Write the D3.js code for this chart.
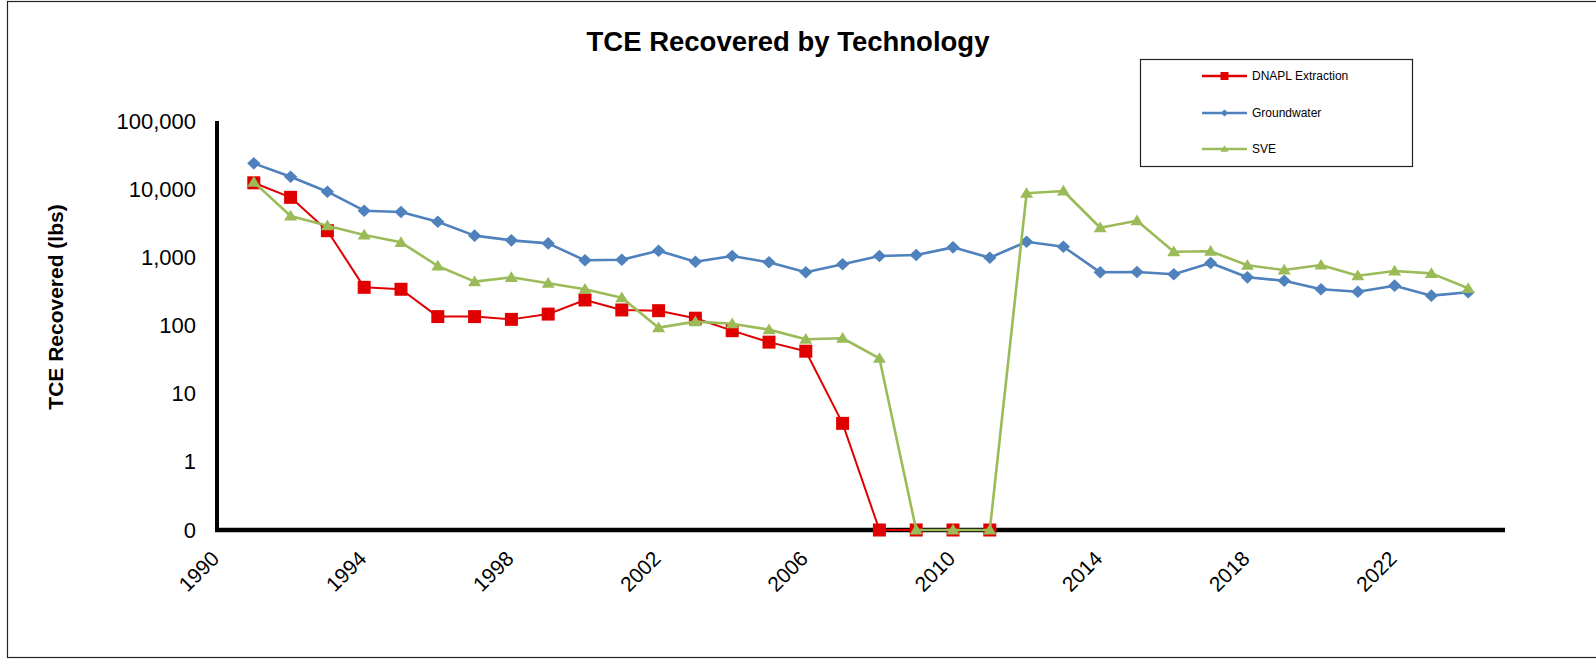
<!DOCTYPE html>
<html>
<head>
<meta charset="utf-8">
<script src="https://cdn.jsdelivr.net/npm/d3@7"></script>
<style>
  html, body { margin: 0; padding: 0; background: #fff; }
  svg { display: block; font-family: "Liberation Sans", Arial, sans-serif; }
</style>
</head>
<body>
<svg id="chart" width="1596" height="660"></svg>
<script>
// ---- data ----
const years = d3.range(1991, 2025);
const dnapl = [12400, 7590, 2460, 363, 340, 135, 135, 123, 147, 237, 169, 165, 128, 84, 57, 42, 3.67, 0, 0, 0, 0,
  null, null, null, null, null, null, null, null, null, null, null, null, null];
const groundwater = [23900, 15200, 9180, 4830, 4620, 3330, 2080, 1775, 1600, 904, 923, 1250, 863, 1045, 845, 603, 790,
  1045, 1080, 1400, 988, 1694, 1432, 603, 610, 564, 826, 509, 454, 340, 313, 384, 274, 307];
const sve = [12700, 4040, 2910, 2125, 1660, 746, 440, 509, 416, 340, 256, 93, 114, 106, 87, 63, 65, 33, 0, 0, 0,
  8690, 9400, 2720, 3440, 1210, 1230, 764, 651, 770, 538, 630, 582, 351];
const yTickValues = [0.1, 1, 10, 100, 1000, 10000, 100000];
const yTickLabels = ["0", "1", "10", "100", "1,000", "10,000", "100,000"];
const xTickValues = [1990, 1994, 1998, 2002, 2006, 2010, 2014, 2018, 2022];
const seriesNames = ["DNAPL Extraction", "Groundwater", "SVE"];

const series = [
  { name: seriesNames[0], values: dnapl, color: "#E00000", width: 2, marker: "square", size: 13 },
  { name: seriesNames[1], values: groundwater, color: "#4F81BD", width: 2.6, marker: "diamond", size: 14 },
  { name: seriesNames[2], values: sve, color: "#9BBB59", width: 2.6, marker: "triangle", size: 13 }
];

const svg = d3.select("#chart");

// outer border (right edge falls outside the picture)
svg.append("rect").attr("x", 7.5).attr("y", 1.5).attr("width", 1620).attr("height", 656)
  .attr("fill", "none").attr("stroke", "#222").attr("stroke-width", 1.2);

const x = d3.scaleLinear().domain([1990, 2025]).range([217, 1505]);
const y = d3.scaleLog().domain([0.1, 100000]).range([530, 121]);
const yv = v => y(Math.max(v, 0.1));

// title
svg.append("text").attr("x", 788).attr("y", 51).attr("text-anchor", "middle")
  .attr("font-size", 27.5).attr("font-weight", "bold").text("TCE Recovered by Technology");

// y axis title
svg.append("text").attr("transform", "translate(63,307) rotate(-90)").attr("text-anchor", "middle")
  .attr("font-size", 21).attr("font-weight", "bold").text("TCE Recovered (lbs)");

// axes
const yAxis = d3.axisLeft(y).tickValues(yTickValues).tickSize(0).tickPadding(0)
  .tickFormat((d, i) => yTickLabels[i]);
const gy = svg.append("g").attr("transform", "translate(196,0)").call(yAxis);
gy.select(".domain").remove();
gy.selectAll("text").attr("font-size", 22).attr("font-family", "Liberation Sans, Arial, sans-serif").attr("fill", "#000");

const xAxis = d3.axisBottom(x).tickValues(xTickValues).tickSize(0).tickFormat(d3.format("d"));
const gx = svg.append("g").attr("transform", "translate(0,530)").call(xAxis);
gx.select(".domain").remove();
gx.selectAll("text").attr("font-size", 21).attr("font-family", "Liberation Sans, Arial, sans-serif").attr("fill", "#000")
  .attr("text-anchor", "end").attr("dy", null).attr("y", null)
  .attr("transform", "translate(3,30) rotate(-45)");

svg.append("line").attr("x1", x(1990)).attr("x2", x(1990)).attr("y1", 121).attr("y2", 532)
  .attr("stroke", "#000").attr("stroke-width", 4);
svg.append("line").attr("x1", 215).attr("x2", x(2025)).attr("y1", 530).attr("y2", 530)
  .attr("stroke", "#000").attr("stroke-width", 4.5);

// marker path generator
function markerPath(type, s) {
  const h = s / 2;
  if (type === "square") return `M${-h},${-h}H${h}V${h}H${-h}Z`;
  if (type === "diamond") return `M0,${-h * 0.9}L${h * 0.95},0L0,${h * 0.9}L${-h * 0.95},0Z`;
  return `M0,${-h * 0.95}L${h},${h * 0.7}L${-h},${h * 0.7}Z`;
}

const line = d3.line().defined(d => d.v != null).x(d => x(d.year)).y(d => yv(d.v));

series.forEach(s => {
  const pts = years.map((yr, i) => ({ year: yr, v: s.values[i] }));
  const g = svg.append("g");
  g.append("path").datum(pts).attr("d", line).attr("fill", "none")
    .attr("stroke", s.color).attr("stroke-width", s.width).attr("stroke-linejoin", "round");
  g.selectAll("path.m").data(pts.filter(d => d.v != null)).join("path").attr("class", "m")
    .attr("transform", d => `translate(${x(d.year)},${yv(d.v)})`)
    .attr("d", markerPath(s.marker, s.size)).attr("fill", s.color);
});

// legend
const lg = svg.append("g");
lg.append("rect").attr("x", 1140.5).attr("y", 59.5).attr("width", 272).attr("height", 107)
  .attr("fill", "#fff").attr("stroke", "#222").attr("stroke-width", 1.2);
const rowY = [76, 113, 149];
series.forEach((s, i) => {
  lg.append("line").attr("x1", 1202).attr("x2", 1247).attr("y1", rowY[i]).attr("y2", rowY[i])
    .attr("stroke", s.color).attr("stroke-width", 2.6);
  lg.append("path").attr("transform", `translate(1224.5,${rowY[i]})`)
    .attr("d", markerPath(s.marker, 8)).attr("fill", s.color);
  lg.append("text").attr("x", 1252).attr("y", rowY[i]).attr("dy", "0.35em")
    .attr("font-size", 12).text(s.name);
});
</script>
</body>
</html>
